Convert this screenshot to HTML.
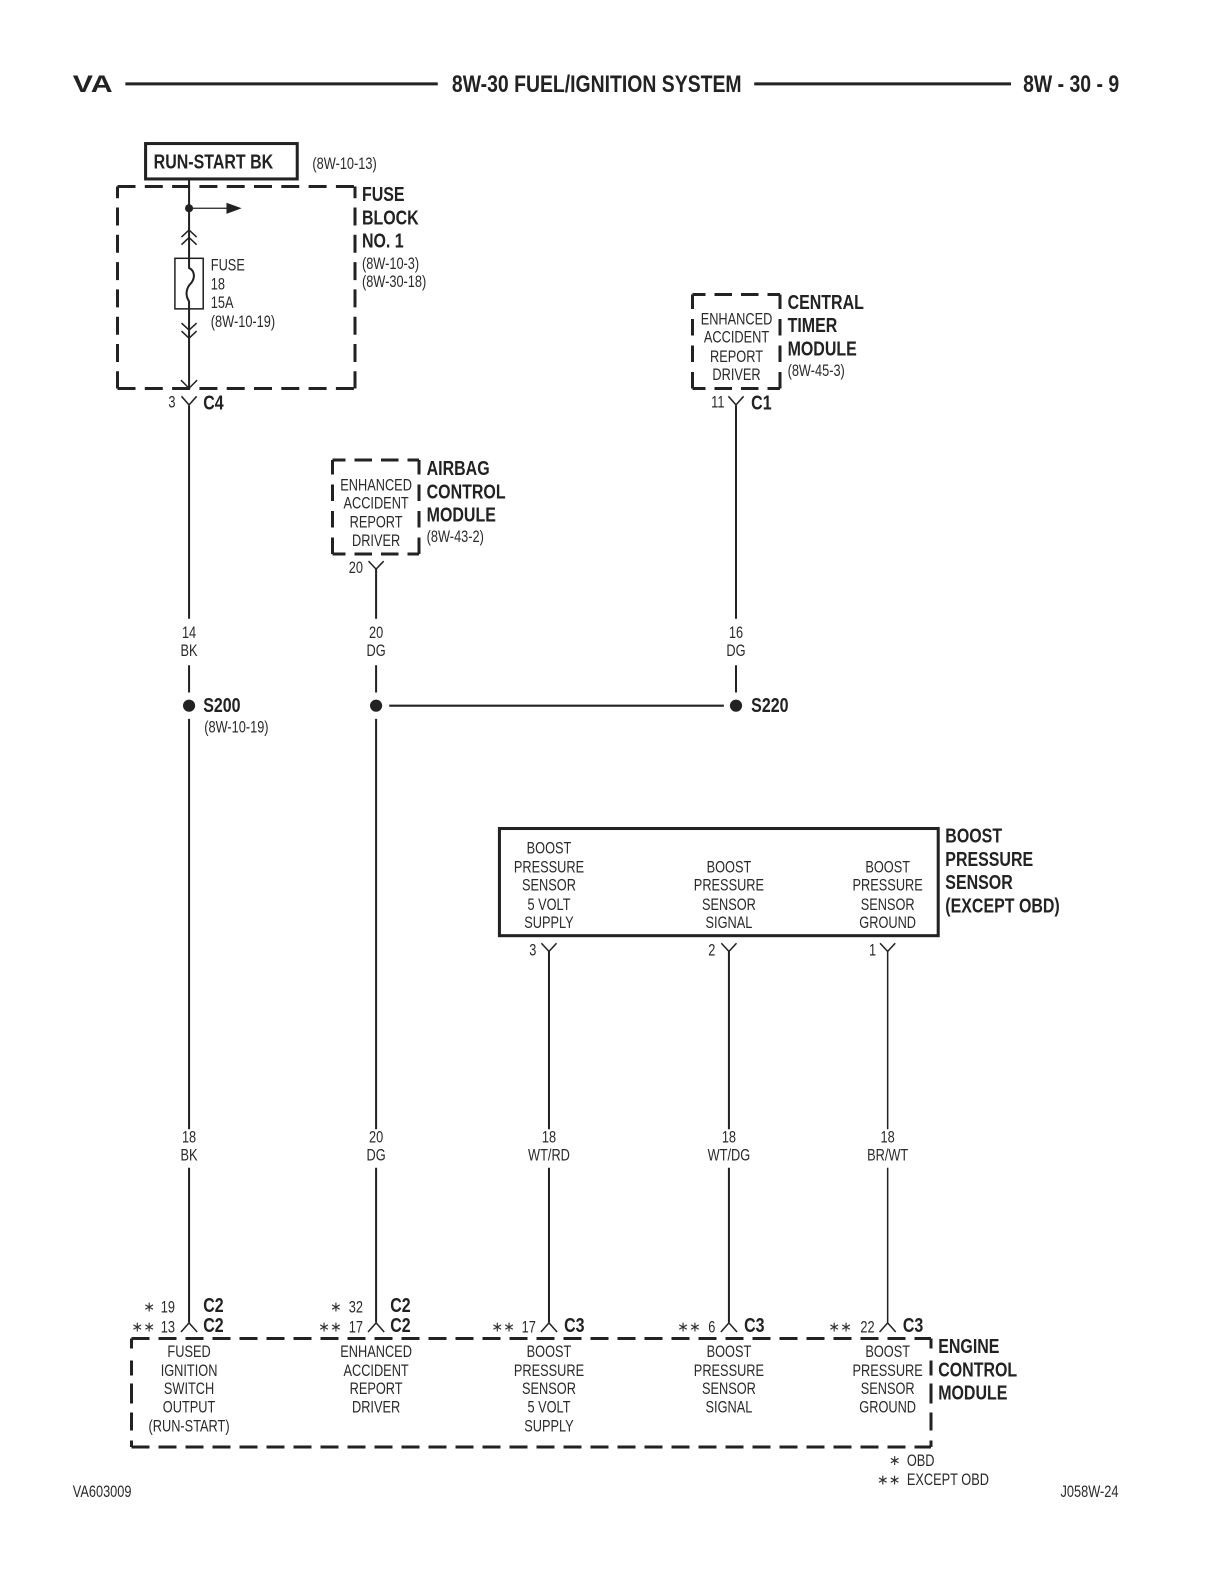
<!DOCTYPE html>
<html><head><meta charset="utf-8"><title>8W-30 Fuel/Ignition System</title>
<style>
html,body{margin:0;padding:0;background:#fff}
svg{display:block}
text{font-family:"Liberation Sans",sans-serif;fill:#2a2a2a}
.s text{font-size:16px;text-anchor:middle}
.l text{font-size:16px;text-anchor:start}
.b text{font-size:20px;font-weight:bold;text-anchor:start;fill:#222}
.a text{font-size:14px;text-anchor:middle;font-family:"DejaVu Sans",sans-serif;fill:#333}
.w line,.w path{stroke:#222;stroke-width:2;fill:none}
.c path{stroke:#222;stroke-width:1.5;fill:none}
.d rect{fill:none;stroke:#222;stroke-width:3}
.x path{fill:none;stroke:#222;stroke-width:3}
</style></head><body>
<svg width="1224" height="1584" viewBox="0 0 1224 1584" xmlns="http://www.w3.org/2000/svg">
<rect width="1224" height="1584" fill="#fff"/>
<!-- dashed boxes in page coordinates -->
<g class="x">
<path d="M117.500 186.500H355M117.500 388.500H355" stroke-dasharray="18 9.300"/>
<path d="M117.500 186.500V388.500M355 186.500V388.500" stroke-dasharray="18 9.300" stroke-dashoffset="6.300"/>
<path d="M692.500 294.500H780M692.500 388.500H780" stroke-dasharray="17.500 9" stroke-dashoffset="4.500"/>
<path d="M692.500 294.500V388.500M780 294.500V388.500" stroke-dasharray="16.500 10" stroke-dashoffset="2"/>
<path d="M332.500 460H419M332.500 554H419" stroke-dasharray="17.500 9" stroke-dashoffset="4.500"/>
<path d="M332.500 460V554M419 460V554" stroke-dasharray="16.500 10" stroke-dashoffset="2"/>
<path d="M131.500 1338.500H931M131.500 1447H931" stroke-dasharray="18 9"/>
<path d="M131.500 1338.500V1447M931 1338.500V1447" stroke-dasharray="10 12 15 8 20 9 18 10 9"/>
</g>
<g transform="scale(1.011)">
<!-- header -->
<text transform="translate(72 91) scale(1.25 1)" style="font-size:24px;font-weight:bold;fill:#222">VA</text>
<text transform="translate(447 91) scale(.8 1)" style="font-size:24px;font-weight:bold;fill:#222">8W-30 FUEL/IGNITION SYSTEM</text>
<text transform="translate(1012 91) scale(.8 1)" style="font-size:24px;font-weight:bold;fill:#222">8W - 30 - 9</text>
<g stroke="#222" stroke-width="3"><line x1="124" y1="83" x2="433" y2="83"/><line x1="746" y1="83" x2="1000" y2="83"/></g>
<!-- boxes -->
<g class="d">
<rect x="144" y="142" width="150" height="35"/>
<rect x="494" y="819.500" width="434" height="106"/>
</g>
<rect x="173" y="255.500" width="28" height="50" fill="none" stroke="#222" stroke-width="1.500"/>
<!-- wires -->
<g class="w">
<path d="M187 178V265C193 268 193 275 189 280C184 285 183 292 187 298V384"/>
<line x1="187" y1="206" x2="226" y2="206" style="stroke-width:1.200"/>
<path d="M187 401V612M187 658V685M187 711V1117M187 1155V1308"/>
<path d="M372 563V612M372 658V685M372 711V1117M372 1155V1308"/>
<path d="M728 401V612M728 658V685"/>
<line x1="385" y1="698" x2="716" y2="698"/>
<path d="M543 941V1117M543 1155V1308"/>
<path d="M721 941V1117M721 1155V1308"/>
<path d="M878 941V1117M878 1155V1308" style="stroke-width:1.500"/>
</g>
<g class="c">
<path d="M179.500 234.500L187 227.500L194.500 234.500M179.500 242L187 235L194.500 242"/>
<path d="M179.500 319.500L187 326.500L194.500 319.500M179.500 327.500L187 334.500L194.500 327.500"/>
<path d="M179 376L187 384L195 376"/>
<path d="M179.500 392L187 400.500L194.500 392"/>
<path d="M179 1317.500L187 1308.500L195 1317.500"/>
<path d="M364.500 555L372 563L379.500 555"/>
<path d="M364 1317.500L372 1308.500L380 1317.500"/>
<path d="M720.500 392L728 400.500L735.500 392"/>
<path d="M535.500 933L543 941L550.500 933M535 1317.500L543 1308.500L551 1317.500"/>
<path d="M713.500 933L721 941L728.500 933M713 1317.500L721 1308.500L729 1317.500"/>
<path d="M870.500 933L878 941L885.500 933M870 1317.500L878 1308.500L886 1317.500"/>
</g>
<path d="M224 200.500L239 206L224 211.500Z" fill="#222"/>
<g fill="#222"><circle cx="187" cy="206" r="4"/><circle cx="187" cy="698" r="6"/><circle cx="372" cy="698" r="6"/><circle cx="728" cy="698" r="6"/></g>
<!-- bold labels -->
<g class="b" transform="translate(0 -.5)">
<text transform="translate(152 167) scale(.79 1)">RUN-START BK</text>
<text transform="translate(358 199.500) scale(.79 1)">FUSE</text>
<text transform="translate(358 222.500) scale(.79 1)">BLOCK</text>
<text transform="translate(358 245.500) scale(.79 1)">NO. 1</text>
<text transform="translate(201 405.500) scale(.79 1)">C4</text>
<text transform="translate(779 306) scale(.79 1)">CENTRAL</text>
<text transform="translate(779 329) scale(.79 1)">TIMER</text>
<text transform="translate(779 352) scale(.79 1)">MODULE</text>
<text transform="translate(743 405.500) scale(.79 1)">C1</text>
<text transform="translate(422 470.500) scale(.79 1)">AIRBAG</text>
<text transform="translate(422 493.500) scale(.79 1)">CONTROL</text>
<text transform="translate(422 516.500) scale(.79 1)">MODULE</text>
<text transform="translate(201 705) scale(.79 1)">S200</text>
<text transform="translate(743 705) scale(.79 1)">S220</text>
<text transform="translate(935 834) scale(.79 1)">BOOST</text>
<text transform="translate(935 857) scale(.79 1)">PRESSURE</text>
<text transform="translate(935 880) scale(.79 1)">SENSOR</text>
<text transform="translate(935 903) scale(.79 1)">(EXCEPT OBD)</text>
<text transform="translate(201 1298) scale(.79 1)">C2</text>
<text transform="translate(201 1318) scale(.79 1)">C2</text>
<text transform="translate(386 1298) scale(.79 1)">C2</text>
<text transform="translate(386 1318) scale(.79 1)">C2</text>
<text transform="translate(558 1318) scale(.79 1)">C3</text>
<text transform="translate(736 1318) scale(.79 1)">C3</text>
<text transform="translate(893 1318) scale(.79 1)">C3</text>
<text transform="translate(928 1339) scale(.79 1)">ENGINE</text>
<text transform="translate(928 1362) scale(.79 1)">CONTROL</text>
<text transform="translate(928 1385) scale(.79 1)">MODULE</text>
</g>
<!-- left aligned small -->
<g class="l">
<text transform="translate(309 167) scale(.79 1)">(8W-10-13)</text>
<text transform="translate(208.500 267.500) scale(.79 1)">FUSE</text>
<text transform="translate(208.500 286.500) scale(.79 1)">18</text>
<text transform="translate(208.500 304.500) scale(.79 1)">15A</text>
<text transform="translate(208.500 323.500) scale(.79 1)">(8W-10-19)</text>
<text transform="translate(358 266) scale(.79 1)">(8W-10-3)</text>
<text transform="translate(358 284) scale(.79 1)">(8W-30-18)</text>
<text transform="translate(779 372) scale(.79 1)">(8W-45-3)</text>
<text transform="translate(422 536) scale(.79 1)">(8W-43-2)</text>
<text transform="translate(202 724.500) scale(.79 1)">(8W-10-19)</text>
<text transform="translate(72 1480.500) scale(.79 1)">VA603009</text>
<text transform="translate(1049 1480.500) scale(.79 1)">J058W-24</text>
<text transform="translate(897 1450) scale(.79 1)">OBD</text>
<text transform="translate(897 1469) scale(.79 1)">EXCEPT OBD</text>
</g>
<!-- asterisks -->
<g class="a">
<text x="147.500" y="1297">∗</text>
<text x="141.700" y="1317">∗∗</text>
<text x="332.300" y="1297">∗</text>
<text x="326.400" y="1317">∗∗</text>
<text x="497.700" y="1317">∗∗</text>
<text x="681.500" y="1317">∗∗</text>
<text x="831" y="1317">∗∗</text>
<text x="885" y="1449">∗</text>
<text x="879" y="1468.500">∗∗</text>
</g>
<!-- centered small -->
<g class="s" transform="translate(0 -1)">
<text transform="translate(170 404) scale(.79 1)">3</text>
<text transform="translate(710 404) scale(.79 1)">11</text>
<text transform="translate(352 568) scale(.79 1)">20</text>
<text transform="translate(527 946) scale(.79 1)">3</text>
<text transform="translate(704 946) scale(.79 1)">2</text>
<text transform="translate(863 946) scale(.79 1)">1</text>

<text transform="translate(728.500 322) scale(.79 1)">ENHANCED</text>
<text transform="translate(728.500 340) scale(.79 1)">ACCIDENT</text>
<text transform="translate(728.500 359) scale(.79 1)">REPORT</text>
<text transform="translate(728.500 377) scale(.79 1)">DRIVER</text>

<text transform="translate(372 486) scale(.79 1)">ENHANCED</text>
<text transform="translate(372 504) scale(.79 1)">ACCIDENT</text>
<text transform="translate(372 523) scale(.79 1)">REPORT</text>
<text transform="translate(372 541) scale(.79 1)">DRIVER</text>

<text transform="translate(187 632) scale(.79 1)">14</text>
<text transform="translate(187 650) scale(.79 1)">BK</text>
<text transform="translate(372 632) scale(.79 1)">20</text>
<text transform="translate(372 650) scale(.79 1)">DG</text>
<text transform="translate(728 632) scale(.79 1)">16</text>
<text transform="translate(728 650) scale(.79 1)">DG</text>

<text transform="translate(543 845) scale(.79 1)">BOOST</text>
<text transform="translate(543 864) scale(.79 1)">PRESSURE</text>
<text transform="translate(543 882) scale(.79 1)">SENSOR</text>
<text transform="translate(543 901) scale(.79 1)">5 VOLT</text>
<text transform="translate(543 919) scale(.79 1)">SUPPLY</text>
<text transform="translate(721 864) scale(.79 1)">BOOST</text>
<text transform="translate(721 882) scale(.79 1)">PRESSURE</text>
<text transform="translate(721 901) scale(.79 1)">SENSOR</text>
<text transform="translate(721 919) scale(.79 1)">SIGNAL</text>
<text transform="translate(878 864) scale(.79 1)">BOOST</text>
<text transform="translate(878 882) scale(.79 1)">PRESSURE</text>
<text transform="translate(878 901) scale(.79 1)">SENSOR</text>
<text transform="translate(878 919) scale(.79 1)">GROUND</text>

<text transform="translate(187 1131) scale(.79 1)">18</text>
<text transform="translate(187 1149) scale(.79 1)">BK</text>
<text transform="translate(372 1131) scale(.79 1)">20</text>
<text transform="translate(372 1149) scale(.79 1)">DG</text>
<text transform="translate(543 1131) scale(.79 1)">18</text>
<text transform="translate(543 1149) scale(.79 1)">WT/RD</text>
<text transform="translate(721 1131) scale(.79 1)">18</text>
<text transform="translate(721 1149) scale(.79 1)">WT/DG</text>
<text transform="translate(878 1131) scale(.79 1)">18</text>
<text transform="translate(878 1149) scale(.79 1)">BR/WT</text>

<text transform="translate(166 1299) scale(.79 1)">19</text>
<text transform="translate(166 1319) scale(.79 1)">13</text>
<text transform="translate(352 1299) scale(.79 1)">32</text>
<text transform="translate(352 1319) scale(.79 1)">17</text>
<text transform="translate(523 1319) scale(.79 1)">17</text>
<text transform="translate(704 1319) scale(.79 1)">6</text>
<text transform="translate(858 1319) scale(.79 1)">22</text>

<text transform="translate(187 1343) scale(.79 1)">FUSED</text>
<text transform="translate(187 1362) scale(.79 1)">IGNITION</text>
<text transform="translate(187 1380) scale(.79 1)">SWITCH</text>
<text transform="translate(187 1398) scale(.79 1)">OUTPUT</text>
<text transform="translate(187 1417) scale(.79 1)">(RUN-START)</text>
<text transform="translate(372 1343) scale(.79 1)">ENHANCED</text>
<text transform="translate(372 1362) scale(.79 1)">ACCIDENT</text>
<text transform="translate(372 1380) scale(.79 1)">REPORT</text>
<text transform="translate(372 1398) scale(.79 1)">DRIVER</text>
<text transform="translate(543 1343) scale(.79 1)">BOOST</text>
<text transform="translate(543 1362) scale(.79 1)">PRESSURE</text>
<text transform="translate(543 1380) scale(.79 1)">SENSOR</text>
<text transform="translate(543 1398) scale(.79 1)">5 VOLT</text>
<text transform="translate(543 1417) scale(.79 1)">SUPPLY</text>
<text transform="translate(721 1343) scale(.79 1)">BOOST</text>
<text transform="translate(721 1362) scale(.79 1)">PRESSURE</text>
<text transform="translate(721 1380) scale(.79 1)">SENSOR</text>
<text transform="translate(721 1398) scale(.79 1)">SIGNAL</text>
<text transform="translate(878 1343) scale(.79 1)">BOOST</text>
<text transform="translate(878 1362) scale(.79 1)">PRESSURE</text>
<text transform="translate(878 1380) scale(.79 1)">SENSOR</text>
<text transform="translate(878 1398) scale(.79 1)">GROUND</text>
</g>
</g>
</svg>
</body></html>
